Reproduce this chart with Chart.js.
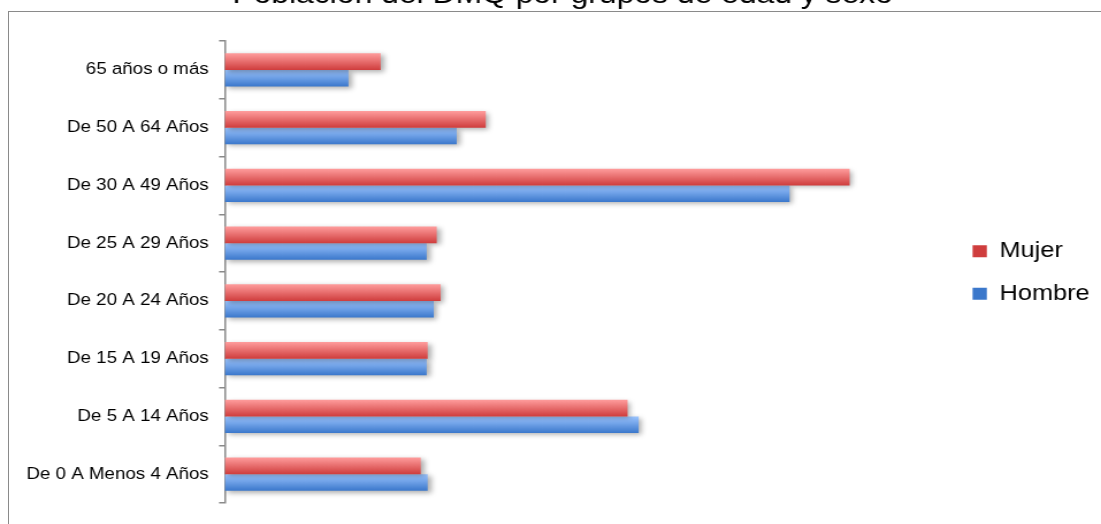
<!DOCTYPE html>
<html>
<head>
<meta charset="utf-8">
<script src="https://cdn.jsdelivr.net/npm/chart.js@4/dist/chart.umd.min.js"></script>
<style>
  html, body { margin: 0; padding: 0; background: #fff; overflow: hidden; }
  body { width: 1101px; height: 524px; position: relative; }
  #frame { position: absolute; left: 8px; top: 11px; width: 1200px; height: 600px; border: 1.5px solid #8a8a8a; }
  #wrap { position: absolute; left: 0; top: -22px; width: 957px; height: 546px; transform: scaleX(1.1505); transform-origin: 0 0; }
</style>
</head>
<body>
<div id="frame"></div>
<div id="wrap"><canvas id="poblacionChart"></canvas></div>
<script>
// Grupos de edad (de arriba hacia abajo)
const grupos = ['65 años o más', 'De 50 A 64 Años', 'De 30 A 49 Años', 'De 25 A 29 Años',
  'De 20 A 24 Años', 'De 15 A 19 Años', 'De 5 A 14 Años', 'De 0 A Menos 4 Años'];
const mujer = [78900, 132100, 316300, 107300, 109300, 102700, 203900, 99200];
const hombre = [62600, 117400, 285900, 102200, 105800, 102200, 209500, 102700];

const catPct = 0.578;
const font = "'Liberation Sans', Arial, sans-serif";

// gradient fill per bar, light on top, dark at the bottom
function barFill(light, dark, solid) {
  return function (ctx) {
    if (ctx.type !== 'data') return solid;
    const chart = ctx.chart;
    const y = chart.scales.y;
    if (!y) return solid;
    const band = (y.bottom - y.top) / grupos.length;
    const h = band * catPct / 2;
    const top = y.getPixelForValue(ctx.dataIndex) - h + ctx.datasetIndex * h;
    if (!Number.isFinite(top) || !Number.isFinite(h) || h <= 0) return solid;
    const g = chart.ctx.createLinearGradient(0, top, 0, top + h);
    g.addColorStop(0, light);
    g.addColorStop(1, dark);
    return g;
  };
}

const barShadow = {
  id: 'barShadow',
  beforeDatasetsDraw(chart) {
    const c = chart.ctx;
    c.save();
    c.shadowColor = 'rgba(0,0,0,0.32)';
    c.shadowBlur = 5;
    c.shadowOffsetX = 3;
    c.shadowOffsetY = 2;
  },
  afterDatasetsDraw(chart) {
    chart.ctx.restore();
  }
};

const poblacionChart = new Chart(document.getElementById('poblacionChart'), {
  type: 'bar',
  data: {
    labels: grupos,
    datasets: [{
      label: 'Mujer',
      data: mujer,
      backgroundColor: barFill('#ff9d9d', '#cf3d3d', '#e56464'),
      borderWidth: 0
    }, {
      label: 'Hombre',
      data: hombre,
      backgroundColor: barFill('#9cc5ff', '#3a77cb', '#6c9fe6'),
      borderWidth: 0
    }]
  },
  options: {
    indexAxis: 'y',
    responsive: true,
    maintainAspectRatio: false,
    animation: false,
    categoryPercentage: catPct,
    barPercentage: 1,
    layout: { padding: { left: 21, right: 0, top: 0, bottom: 21 } },
    scales: {
      x: { display: false, min: 0, max: 366500 },
      y: {
        afterFit(scale) { scale.width -= 7; },
        border: { display: true, color: '#8a8a8a', width: 1.5 },
        grid: { drawOnChartArea: false, drawTicks: true, tickLength: 5, color: '#8a8a8a', lineWidth: 1.5 },
        ticks: { color: '#000', padding: 9, font: { family: font, size: 16.3 } }
      }
    },
    plugins: {
      title: {
        display: true,
        text: 'Población del DMQ por grupos de edad y sexo',
        color: '#000',
        font: { family: font, size: 27.7, weight: 'normal' },
        padding: { top: 1, bottom: 28.8 }
      },
      legend: {
        display: true,
        position: 'right',
        title: { display: true, text: '', font: { size: 10, lineHeight: 1 }, padding: { top: 27, bottom: 27 } },
        labels: {
          color: '#000',
          boxWidth: 12.4,
          boxHeight: 12,
          padding: 20.7,
          font: { family: font, size: 22 }
        }
      },
      tooltip: { enabled: false }
    }
  },
  plugins: [barShadow]
});
</script>
</body>
</html>
